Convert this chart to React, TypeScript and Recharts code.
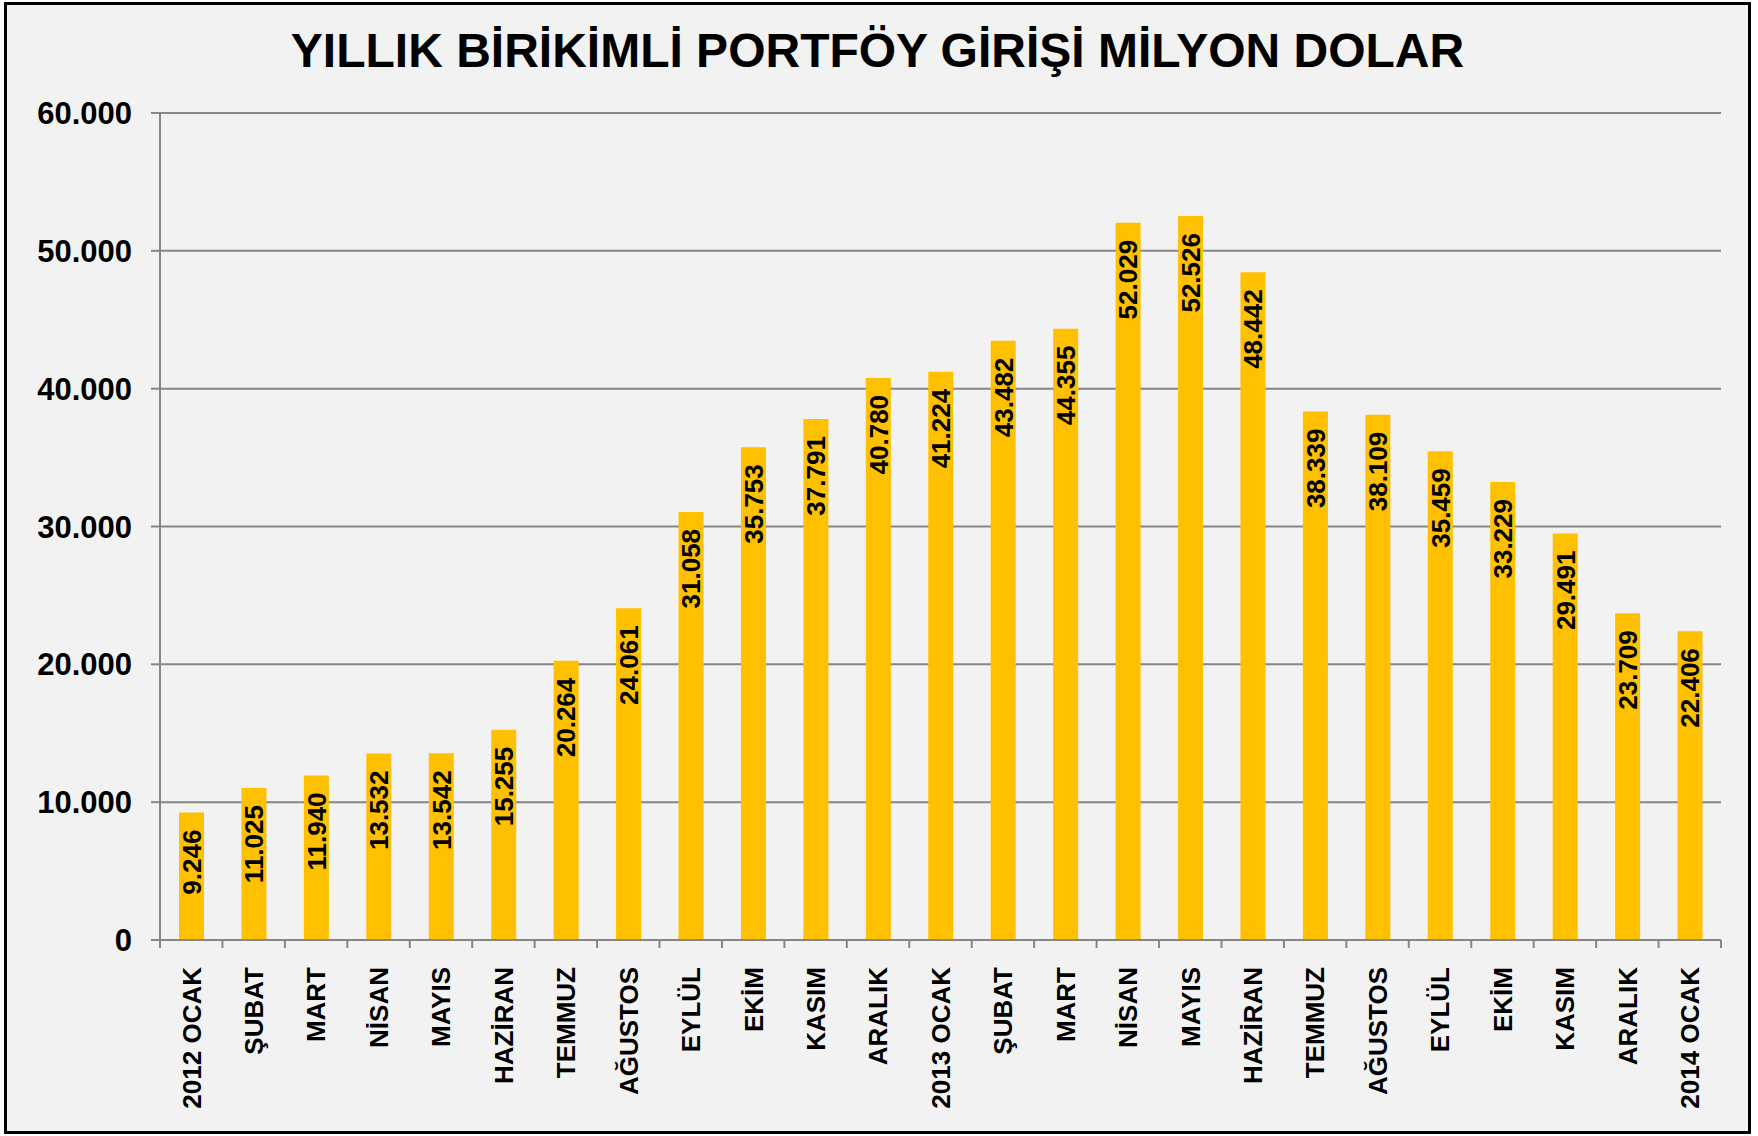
import React from 'react';
import { BarChart, Bar, XAxis, YAxis, CartesianGrid, LabelList } from 'recharts';

const months = [
  '2012 OCAK', 'ŞUBAT', 'MART', 'NİSAN', 'MAYIS', 'HAZİRAN', 'TEMMUZ', 'AĞUSTOS',
  'EYLÜL', 'EKİM', 'KASIM', 'ARALIK', '2013 OCAK', 'ŞUBAT', 'MART', 'NİSAN',
  'MAYIS', 'HAZİRAN', 'TEMMUZ', 'AĞUSTOS', 'EYLÜL', 'EKİM', 'KASIM', 'ARALIK', '2014 OCAK'
];

const inflows = [
  9246, 11025, 11940, 13532, 13542, 15255, 20264, 24061,
  31058, 35753, 37791, 40780, 41224, 43482, 44355, 52029,
  52526, 48442, 38339, 38109, 35459, 33229, 29491, 23709, 22406
];

const yTicks = [0, 10000, 20000, 30000, 40000, 50000, 60000];

const data = months.map((m, i) => ({ key: String(i), month: m, val: inflows[i] }));

const FONT = '"Liberation Sans", Arial, sans-serif';
const GRID = '#868686';

// 12345 -> "12.345"
const fmt = (v: number) => String(v).replace(/\B(?=(\d{3})+(?!\d))/g, '.');

const MonthTick = (props: any) => {
  const { x, y, index, payload, visibleTicksCount } = props;
  const half = payload.offset || 0;
  const ty = y + 27;
  return (
    <g>
      <line x1={x - half} x2={x - half} y1={y} y2={y + 8} stroke={GRID} strokeWidth={2} />
      {index === visibleTicksCount - 1 && (
        <line x1={x + half} x2={x + half} y1={y} y2={y + 8} stroke={GRID} strokeWidth={2} />
      )}
      <text
        x={x}
        y={ty}
        transform={`rotate(-90, ${x}, ${ty})`}
        textAnchor="end"
        dy="0.36em"
        fontFamily={FONT}
        fontWeight="bold"
        fontSize={26}
        fill="#000"
      >
        {months[index]}
      </text>
    </g>
  );
};

const ValueLabel = (props: any) => {
  const { x, y, width, value } = props;
  const cx = x + width / 2;
  const ty = y + 17;
  return (
    <text
      x={cx}
      y={ty}
      transform={`rotate(-90, ${cx}, ${ty})`}
      textAnchor="end"
      dy="0.36em"
      fontFamily={FONT}
      fontWeight="bold"
      fontSize={26}
      fill="#000"
    >
      {fmt(value)}
    </text>
  );
};

export default function App() {
  return (
    <div style={{ position: 'absolute', left: 0, top: 0, width: 1758, height: 1136, background: '#fff' }}>
      <div
        style={{
          position: 'absolute',
          left: 4,
          top: 2,
          width: 1747,
          height: 1132,
          border: '3px solid #000',
          background: '#F2F2F2',
          boxSizing: 'border-box'
        }}
      />
      <div
        style={{
          position: 'absolute',
          left: 5,
          top: 27,
          width: 1745,
          textAlign: 'center',
          fontFamily: FONT,
          fontWeight: 'bold',
          fontSize: 48,
          lineHeight: '48px',
          color: '#000'
        }}
      >
        YILLIK BİRİKİMLİ PORTFÖY GİRİŞİ MİLYON DOLAR
      </div>
      <div style={{ position: 'absolute', left: 0, top: 0 }}>
        <BarChart
          width={1758}
          height={1136}
          data={data}
          margin={{ top: 113, right: 37, left: 0, bottom: 0 }}
        >
          <CartesianGrid vertical={false} stroke={GRID} strokeWidth={2} />
          <XAxis
            dataKey="key"
            height={196}
            axisLine={{ stroke: GRID, strokeWidth: 2 }}
            tickLine={false}
            tickSize={0}
            tickMargin={0}
            interval={0}
            tick={<MonthTick />}
          />
          <YAxis
            width={160}
            domain={[0, 60000]}
            ticks={yTicks}
            interval={0}
            axisLine={{ stroke: GRID, strokeWidth: 2 }}
            tickLine={{ stroke: GRID, strokeWidth: 2 }}
            tickSize={9}
            tickMargin={19}
            tickFormatter={fmt}
            tick={{ fontFamily: FONT, fontWeight: 'bold', fontSize: 31, fill: '#000' }}
          />
          <Bar dataKey="val" fill="#FFC000" barSize={25} isAnimationActive={false}>
            <LabelList dataKey="val" content={<ValueLabel />} />
          </Bar>
        </BarChart>
      </div>
    </div>
  );
}
